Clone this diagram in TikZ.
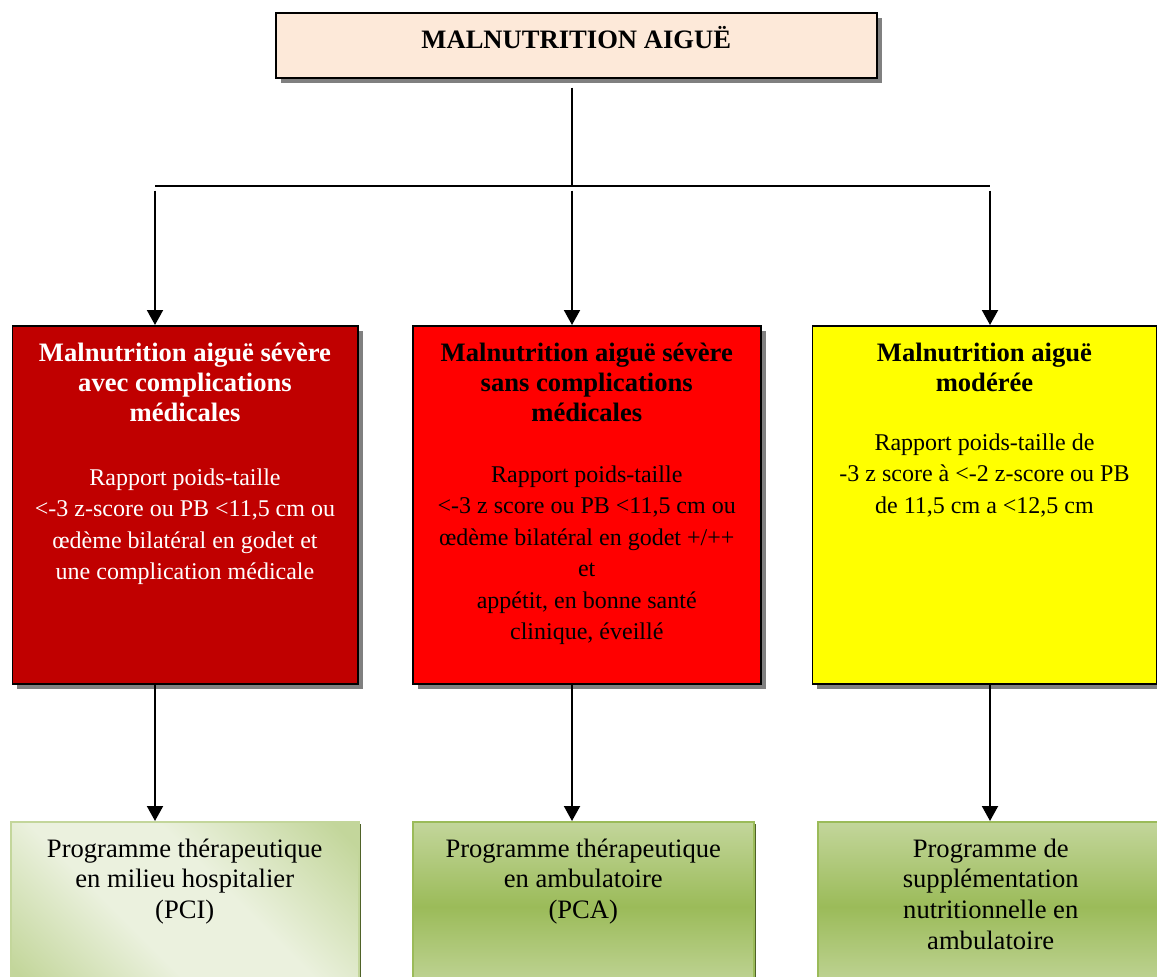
\documentclass[tikz,border=0pt]{standalone}
\usepackage{fontspec}
\setmainfont{Liberation Serif}
\usepackage{xcolor}
\usetikzlibrary{shadows,arrows.meta}

\definecolor{peach}{HTML}{FDE9D9}
\definecolor{sevdark}{HTML}{C00000}
\definecolor{sevred}{HTML}{FF0000}
\definecolor{modyellow}{HTML}{FFFF00}
\definecolor{glight}{HTML}{EBF1DE}
\definecolor{gmid}{HTML}{C3D69B}
\definecolor{gdark}{HTML}{9BBB59}
\definecolor{gshadow}{HTML}{4F6228}

\pgfdeclarehorizontalshading{pcishade}{100bp}{color(0bp)=(gmid); color(18bp)=(gmid); color(40bp)=(glight); color(58bp)=(glight); color(82bp)=(gmid); color(100bp)=(gmid)}

\newcommand{\boxlines}[1]{\parbox[t]{340pt}{\centering #1}}

\tikzset{
    shadowbox/.style={draw=black, line width=1.5pt, anchor=north west, general shadow={fill=black!50, shadow xshift=5pt, shadow yshift=-5pt}},
    greenbox/.style={draw=gdark, line width=1.5pt, anchor=north west, general shadow={fill=gshadow, shadow xshift=2pt, shadow yshift=-2pt}},
    titletxt/.style={anchor=base, inner sep=0pt, font=\fontsize{26.6}{30}\selectfont\bfseries},
    bodytxt/.style={anchor=base, inner sep=0pt, font=\fontsize{24}{31.5}\selectfont},
    progtxt/.style={anchor=base, inner sep=0pt, font=\fontsize{26.6}{30.7}\selectfont},
    link/.style={line width=2pt, -{Triangle[width=16pt,length=15pt]}}
}

\begin{document}
\begin{tikzpicture}[x=1pt, y=-1pt]
    \useasboundingbox (0,0) rectangle (1157,977);
    \clip (0,0) rectangle (1157,977);

    % Top box
    \node[shadowbox, fill=peach, minimum width=601pt, minimum height=65pt] (mag) at (275,12) {};
    \node[titletxt] (magT) at (mag.north |- 0,48) {MALNUTRITION AIGUË};

    % Branching
    \coordinate (fork) at (572,186);
    \coordinate (jl) at (155,186);
    \coordinate (jr) at (990,186);
    \draw[line width=2pt] (mag.south -| fork) ++(0,9) -- (fork);
    \draw[line width=1.3pt] (jl) -- (jr);

    % Middle row
    \node[shadowbox, fill=sevdark, minimum width=345.5pt, minimum height=358pt] (masc) at (11.5,325) {};
    \node[titletxt, text=white] (mascT) at (masc.north |- 0,361) {\boxlines{Malnutrition aiguë sévère\\avec complications\\médicales}};
    \node[bodytxt, text=white] (mascB) at (masc.north |- 0,485) {\boxlines{Rapport poids-taille\\<-3 z-score ou PB <11,5 cm ou\\œdème bilatéral en godet et\\une complication médicale}};

    \node[shadowbox, fill=sevred, minimum width=348pt, minimum height=358pt] (mass) at (412,325) {};
    \node[titletxt] (massT) at (mass.north |- 0,361) {\boxlines{Malnutrition aiguë sévère\\sans complications\\médicales}};
    \node[bodytxt] (massB) at (mass.north |- 0,482) {\boxlines{Rapport poids-taille\\<-3 z score ou PB <11,5 cm ou\\œdème bilatéral en godet +/++\\et\\appétit, en bonne santé\\clinique, éveillé}};

    \node[shadowbox, fill=modyellow, minimum width=344.5pt, minimum height=358pt] (mam) at (811.5,325) {};
    \node[titletxt] (mamT) at (mam.north |- 0,361) {\boxlines{Malnutrition aiguë\\modérée}};
    \node[bodytxt] (mamB) at (mam.north |- 0,450) {\boxlines{Rapport poids-taille de\\-3 z score à <-2 z-score ou PB\\de 11,5 cm a <12,5 cm}};

    % Bottom row (programmes)
    \node[greenbox, draw=gmid, shading=pcishade, shading angle=45, minimum width=348pt, minimum height=170pt] (pci) at (10,821) {};
    \node[progtxt] (pciT) at (pci.north |- 0,857) {\boxlines{Programme thérapeutique\\en milieu hospitalier\\(PCI)}};

    \node[greenbox, top color=gmid, bottom color=gmid, middle color=gdark, minimum width=341pt, minimum height=170pt] (pca) at (412,821) {};
    \node[progtxt] (pcaT) at (pca.north |- 0,857) {\boxlines{Programme thérapeutique\\en ambulatoire\\(PCA)}};

    \node[greenbox, top color=gmid, bottom color=gmid, middle color=gdark, minimum width=346pt, minimum height=170pt] (psn) at (817,821) {};
    \node[progtxt] (psnT) at (psn.north |- 0,857) {\boxlines{Programme de\\supplémentation\\nutritionnelle en\\ambulatoire}};

    % Arrows
    \draw[link] ([yshift=-4.5pt]jl) -- (jl |- masc.north);
    \draw[link] ([yshift=-4.5pt]fork) -- (fork |- mass.north);
    \draw[link] ([yshift=-4.5pt]jr) -- (jr |- mam.north);
    \draw[link] (masc.south -| jl) -- (jl |- pci.north);
    \draw[link] (mass.south -| fork) -- (fork |- pca.north);
    \draw[link] (mam.south -| jr) -- (jr |- psn.north);
\end{tikzpicture}
\end{document}
